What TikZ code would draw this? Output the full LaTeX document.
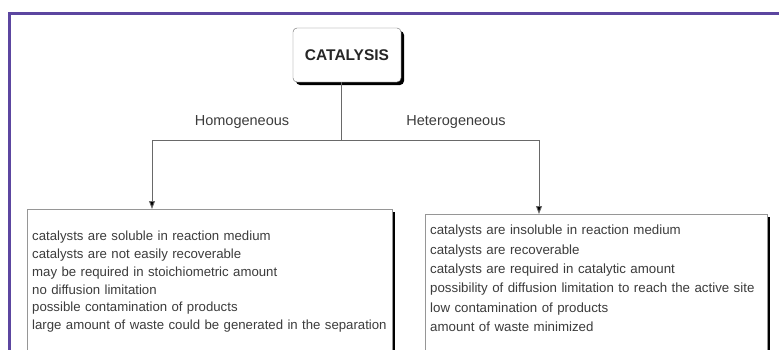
\documentclass[tikz,border=0pt]{standalone}
\usepackage{fontspec}
\setmainfont{Liberation Sans}
\usetikzlibrary{positioning,shadows,arrows.meta}
\definecolor{frameviolet}{RGB}{92,70,160}
\definecolor{linegray}{RGB}{105,105,105}
\definecolor{textgray}{RGB}{60,60,60}

\begin{document}
\begin{tikzpicture}[x=1pt,y=1pt,
    headbox/.style={draw=linegray, fill=white, rounded corners=4pt,
        minimum width=108pt, minimum height=54pt, inner sep=0pt,
        font=\fontsize{15.5}{17}\selectfont\bfseries, text=black!85,
        drop shadow={shadow xshift=3pt, shadow yshift=-3pt, fill=black, opacity=1}},
    listbox/.style={draw=linegray!70, fill=white, anchor=north west, align=left,
        inner xsep=5pt, text depth=160pt, text=textgray,
        drop shadow={shadow xshift=2.5pt, shadow yshift=-2.5pt, fill=black, opacity=1}},
    branchlabel/.style={font=\fontsize{14.5}{16}\selectfont, text=textgray, inner sep=0pt},
    conn/.style={draw=linegray, line width=0.9pt},
    arr/.style={conn, -{Triangle[length=8pt,width=6pt,fill=black]}}
]
	%% some definitions
	\def\splitY{-140} % height of the branching line
	\def\lefttop{-209}
	\def\righttop{-214}

	\useasboundingbox (0,0) rectangle (779,-349);

	% purple page frame
	\draw[frameviolet, line width=3pt] (9,-400) |- (800,-13);

	\node[headbox] (cat) at (347,-55) {CATALYSIS};

	\node[listbox, text width=355pt, inner ysep=22pt,
	      font=\fontsize{13.2}{17.8}\selectfont] (homo) at (27,\lefttop) {%
		catalysts are soluble in reaction medium\\
		catalysts are not easily recoverable\\
		may be required in stoichiometric amount\\
		no diffusion limitation\\
		possible contamination of products\\
		large amount of waste could be generated in the separation};

	\node[listbox, text width=332pt, inner ysep=11pt,
	      font=\fontsize{13.3}{19.3}\selectfont] (hetero) at (425,\righttop) {%
		catalysts are insoluble in reaction medium\\
		catalysts are recoverable\\
		catalysts are required in catalytic amount\\
		possibility of diffusion limitation to reach the active site\\
		low contamination of products\\
		amount of waste minimized};

	\node[branchlabel] (homolabel) at (242,-122) {Homogeneous};
	\node[branchlabel] (heterolabel) at (456,-122) {Heterogeneous};

	\coordinate (split) at (341,\splitY);
	\coordinate (homoin) at (152,\lefttop);
	\coordinate (heteroin) at (539,\righttop);

	\draw[conn] (cat.south -| split) -- (split);
	\draw[arr] (split) -| (homoin);
	\draw[arr] (split) -| (heteroin);

\end{tikzpicture}
\end{document}
